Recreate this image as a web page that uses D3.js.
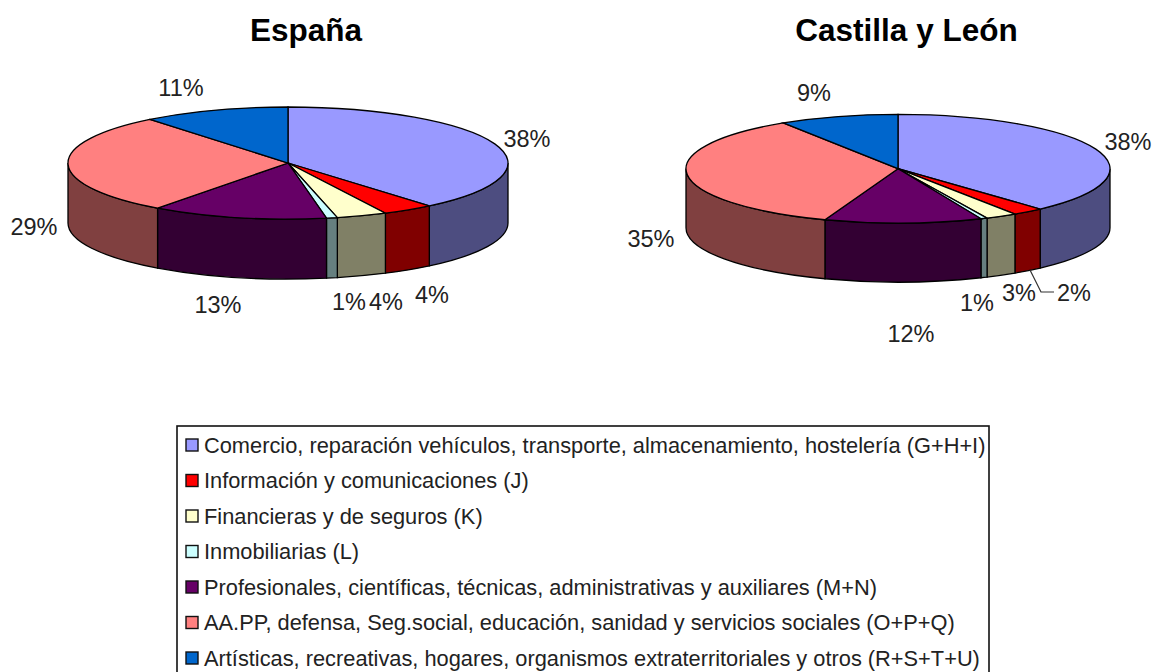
<!DOCTYPE html>
<html>
<head>
<meta charset="utf-8">
<script src="https://cdn.jsdelivr.net/npm/d3@7"></script>
<style>
  html, body { margin: 0; background: #fff; }
  text { font-family: "Liberation Sans", Arial, sans-serif; fill: #222; }
</style>
</head>
<body>
<div class="main-container"></div>
<script>
const width = 1156, height = 672;

const categories = [
  "Comercio, reparación vehículos, transporte, almacenamiento, hostelería (G+H+I)",
  "Información y comunicaciones (J)",
  "Financieras y de seguros (K)",
  "Inmobiliarias (L)",
  "Profesionales, científicas, técnicas, administrativas y auxiliares (M+N)",
  "AA.PP, defensa, Seg.social, educación, sanidad y servicios sociales (O+P+Q)",
  "Artísticas, recreativas, hogares, organismos extraterritoriales y otros (R+S+T+U)"
];
const topColors = ["#9999ff", "#ff0000", "#ffffcc", "#ccffff", "#660066", "#ff8080", "#0066cc"];
const sideColors = ["#4d4d80", "#800000", "#808066", "#668080", "#330033", "#804040", "#003366"];

const espanaValues = [38.9, 3.8, 3.7, 0.8, 12.9, 29.1, 10.8];
const espanaLabels = ["38%", "4%", "4%", "1%", "13%", "29%", "11%"];
const castillaValues = [38.3, 2.4, 2.4, 0.5, 12.0, 35.3, 9.1];
const castillaLabels = ["38%", "2%", "3%", "1%", "12%", "35%", "9%"];

const espanaLabelPos = [[527, 138], [432, 294], [386, 301], [349, 301], [218, 304], [34, 226], [181, 87]];
const castillaLabelPos = [[1128, 141], [1074, 292], [1019, 292], [977, 302], [911, 333], [651, 238], [814, 92]];

const svg = d3.select(".main-container")
  .append("svg")
  .attr("width", width)
  .attr("height", height)
  .style("display", "block");

function drawPie(title, titleX, values, labels, labelPos, cx, cy, rx, ry, depth) {
  const g = svg.append("g");

  g.append("text")
    .attr("x", titleX)
    .attr("y", 41)
    .attr("text-anchor", "middle")
    .style("font-size", "31.5px")
    .style("font-weight", "bold")
    .style("fill", "#000")
    .text(title);

  const slices = d3.pie().sort(null)(values);
  const px = a => cx + rx * Math.sin(a);
  const py = a => cy - ry * Math.cos(a);

  // side wall, only the part of the rim facing the viewer
  slices.forEach((s, i) => {
    const a0 = Math.max(s.startAngle, Math.PI / 2);
    const a1 = Math.min(s.endAngle, Math.PI * 1.5);
    if (a1 <= a0) return;
    const large = a1 - a0 > Math.PI ? 1 : 0;
    g.append("path")
      .attr("d", `M${px(a0)},${py(a0)}A${rx},${ry} 0 ${large} 1 ${px(a1)},${py(a1)}` +
        `L${px(a1)},${py(a1) + depth}A${rx},${ry} 0 ${large} 0 ${px(a0)},${py(a0) + depth}Z`)
      .attr("fill", sideColors[i])
      .attr("stroke", "#000")
      .attr("stroke-width", 1.3);
  });

  const arc = d3.arc().innerRadius(0).outerRadius(rx);
  const top = g.append("g")
    .attr("transform", `translate(${cx},${cy}) scale(1,${ry / rx})`);
  top.selectAll("path")
    .data(slices)
    .join("path")
    .attr("d", arc)
    .attr("fill", (d, i) => topColors[i])
    .attr("stroke", "#000")
    .attr("stroke-width", 1.3)
    .attr("vector-effect", "non-scaling-stroke");

  g.selectAll("text.pct")
    .data(labels)
    .join("text")
    .attr("class", "pct")
    .attr("x", (d, i) => labelPos[i][0])
    .attr("y", (d, i) => labelPos[i][1] + 8.5)
    .attr("text-anchor", "middle")
    .style("font-size", "23.5px")
    .text(d => d);
}

drawPie("España", 306, espanaValues, espanaLabels, espanaLabelPos, 288, 163, 220, 56, 60);
drawPie("Castilla y León", 906.5, castillaValues, castillaLabels, castillaLabelPos, 898, 168.7, 212, 54.4, 59);

// leader line for the 2% label
svg.append("path")
  .attr("d", "M1030,270L1041,292L1054,292")
  .attr("fill", "none")
  .attr("stroke", "#333")
  .attr("stroke-width", 1.2);

// legend, its bottom edge runs off the picture
const legend = svg.append("g");
legend.append("rect")
  .attr("x", 177).attr("y", 426)
  .attr("width", 812).attr("height", 260)
  .attr("fill", "#fff").attr("stroke", "#111").attr("stroke-width", 1.6);

const rowY = d3.scalePoint().domain(d3.range(categories.length)).range([445, 658]);

const rows = legend.selectAll("g.row")
  .data(categories)
  .join("g")
  .attr("class", "row")
  .attr("transform", (d, i) => `translate(0,${rowY(i)})`);

rows.append("rect")
  .attr("x", 186).attr("y", -6)
  .attr("width", 12).attr("height", 12)
  .attr("fill", (d, i) => topColors[i])
  .attr("stroke", "#111")
  .attr("stroke-width", 1.4);

rows.append("text")
  .attr("x", 204)
  .attr("y", 7.5)
  .style("font-size", "21.8px")
  .text(d => d);
</script>
</body>
</html>
